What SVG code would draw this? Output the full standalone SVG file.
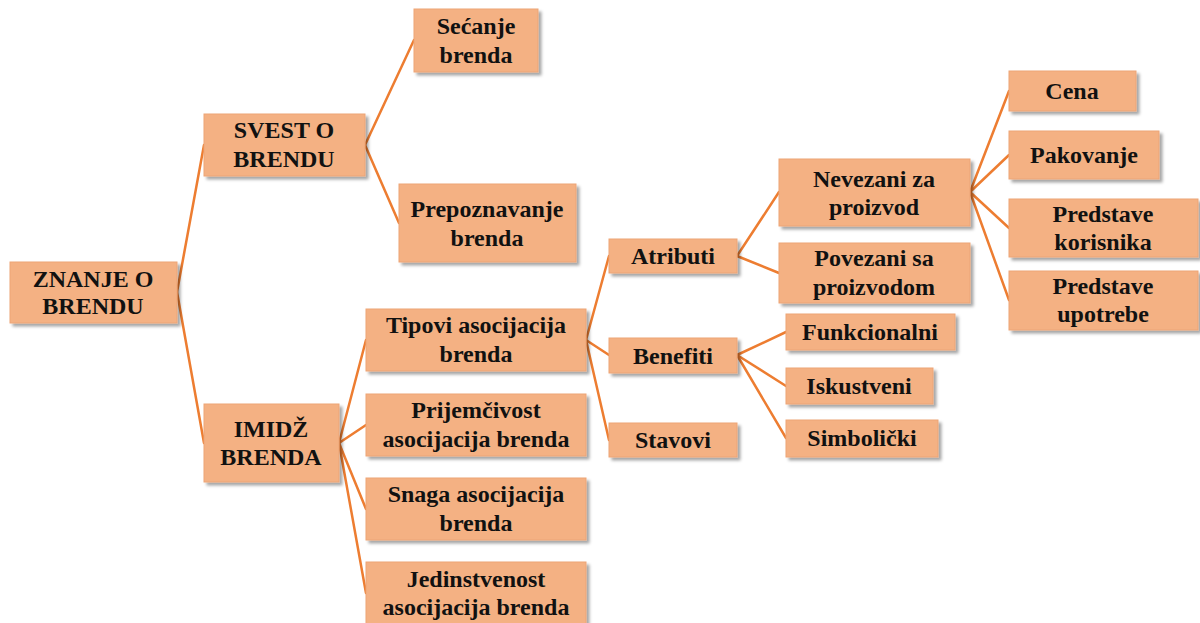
<svg xmlns="http://www.w3.org/2000/svg" width="1200" height="623" viewBox="0 0 1200 623">
  <defs>
    <filter id="shadow" x="-10%" y="-20%" width="130%" height="150%">
      <feDropShadow dx="3" dy="3" stdDeviation="1.6" flood-color="#000" flood-opacity="0.35"/>
    </filter>
  </defs>
  <style>
    .box { fill: #F4B183; stroke: #EDA577; stroke-width: 1; filter: url(#shadow); }
    .lbl { font-weight: 700; font-size: 24px; fill: #111; text-anchor: middle; }
    .edge { stroke: #ED7D31; stroke-width: 2.5; fill: none; stroke-linecap: round; }
  </style>
  <rect width="1200" height="623" fill="#fff"/>

  <!-- connectors: right-middle of parent to left-middle of child -->
  <g id="connectors">
    <line class="edge" x1="177" y1="292" x2="204" y2="145"/>
    <line class="edge" x1="177" y1="292" x2="204" y2="443"/>
    <line class="edge" x1="365" y1="145" x2="414" y2="40"/>
    <line class="edge" x1="365" y1="145" x2="399" y2="223"/>
    <line class="edge" x1="339" y1="443" x2="366" y2="340"/>
    <line class="edge" x1="339" y1="443" x2="366" y2="425"/>
    <line class="edge" x1="339" y1="443" x2="366" y2="509"/>
    <line class="edge" x1="339" y1="443" x2="366" y2="593"/>
    <line class="edge" x1="586" y1="340" x2="609" y2="256"/>
    <line class="edge" x1="586" y1="340" x2="609" y2="355"/>
    <line class="edge" x1="586" y1="340" x2="609" y2="440"/>
    <line class="edge" x1="737" y1="256" x2="779" y2="192"/>
    <line class="edge" x1="737" y1="256" x2="779" y2="273"/>
    <line class="edge" x1="970" y1="192" x2="1009" y2="91"/>
    <line class="edge" x1="970" y1="192" x2="1009" y2="155"/>
    <line class="edge" x1="970" y1="192" x2="1009" y2="228"/>
    <line class="edge" x1="970" y1="192" x2="1009" y2="300"/>
    <line class="edge" x1="737" y1="355" x2="786" y2="332"/>
    <line class="edge" x1="737" y1="355" x2="786" y2="386"/>
    <line class="edge" x1="737" y1="355" x2="786" y2="438"/>
  </g>

  <g id="nodes" font-family="Liberation Serif, DejaVu Serif, serif">
  <g id="znanje">
    <rect class="box" x="10" y="262" width="167" height="61"/>
    <text class="lbl" x="93" y="287">ZNANJE O</text>
    <text class="lbl" x="93" y="314">BRENDU</text>
  </g>
  <g id="svest">
    <rect class="box" x="204" y="114" width="161" height="62"/>
    <text class="lbl" x="284" y="138">SVEST O</text>
    <text class="lbl" x="284" y="167">BRENDU</text>
  </g>
  <g id="secanje">
    <rect class="box" x="414" y="9" width="124" height="63"/>
    <text class="lbl" x="476" y="34">Sećanje</text>
    <text class="lbl" x="476" y="63">brenda</text>
  </g>
  <g id="prepoznavanje">
    <rect class="box" x="399" y="184" width="177" height="78"/>
    <text class="lbl" x="487" y="217">Prepoznavanje</text>
    <text class="lbl" x="487" y="246">brenda</text>
  </g>
  <g id="imidz">
    <rect class="box" x="204" y="404" width="135" height="78"/>
    <text class="lbl" x="271" y="437">IMIDŽ</text>
    <text class="lbl" x="271" y="465">BRENDA</text>
  </g>
  <g id="tipovi">
    <rect class="box" x="366" y="309" width="220" height="62"/>
    <text class="lbl" x="476" y="333">Tipovi asocijacija</text>
    <text class="lbl" x="476" y="362">brenda</text>
  </g>
  <g id="prijemcivost">
    <rect class="box" x="366" y="394" width="220" height="62"/>
    <text class="lbl" x="476" y="418">Prijemčivost</text>
    <text class="lbl" x="476" y="447">asocijacija brenda</text>
  </g>
  <g id="snaga">
    <rect class="box" x="366" y="478" width="220" height="62"/>
    <text class="lbl" x="476" y="502">Snaga asocijacija</text>
    <text class="lbl" x="476" y="531">brenda</text>
  </g>
  <g id="jedinstvenost">
    <rect class="box" x="366" y="562" width="220" height="63"/>
    <text class="lbl" x="476" y="587">Jedinstvenost</text>
    <text class="lbl" x="476" y="615">asocijacija brenda</text>
  </g>
  <g id="atributi">
    <rect class="box" x="609" y="239" width="128" height="34"/>
    <text class="lbl" x="673" y="264">Atributi</text>
  </g>
  <g id="benefiti">
    <rect class="box" x="609" y="338" width="128" height="35"/>
    <text class="lbl" x="673" y="364">Benefiti</text>
  </g>
  <g id="stavovi">
    <rect class="box" x="609" y="423" width="128" height="34"/>
    <text class="lbl" x="673" y="448">Stavovi</text>
  </g>
  <g id="nevezani">
    <rect class="box" x="779" y="159" width="191" height="67"/>
    <text class="lbl" x="874" y="187">Nevezani za</text>
    <text class="lbl" x="874" y="215">proizvod</text>
  </g>
  <g id="povezani">
    <rect class="box" x="779" y="243" width="191" height="60"/>
    <text class="lbl" x="874" y="266">Povezani sa</text>
    <text class="lbl" x="874" y="295">proizvodom</text>
  </g>
  <g id="cena">
    <rect class="box" x="1009" y="71" width="127" height="40"/>
    <text class="lbl" x="1072" y="99">Cena</text>
  </g>
  <g id="pakovanje">
    <rect class="box" x="1009" y="131" width="150" height="48"/>
    <text class="lbl" x="1084" y="163">Pakovanje</text>
  </g>
  <g id="predstave-korisnika">
    <rect class="box" x="1009" y="199" width="189" height="58"/>
    <text class="lbl" x="1103" y="222">Predstave</text>
    <text class="lbl" x="1103" y="250">korisnika</text>
  </g>
  <g id="predstave-upotrebe">
    <rect class="box" x="1009" y="271" width="189" height="59"/>
    <text class="lbl" x="1103" y="294">Predstave</text>
    <text class="lbl" x="1103" y="322">upotrebe</text>
  </g>
  <g id="funkcionalni">
    <rect class="box" x="786" y="314" width="169" height="36"/>
    <text class="lbl" x="870" y="340">Funkcionalni</text>
  </g>
  <g id="iskustveni">
    <rect class="box" x="786" y="368" width="147" height="36"/>
    <text class="lbl" x="859" y="394">Iskustveni</text>
  </g>
  <g id="simbolicki">
    <rect class="box" x="786" y="420" width="152" height="37"/>
    <text class="lbl" x="862" y="446">Simbolički</text>
  </g>
  </g>
</svg>
